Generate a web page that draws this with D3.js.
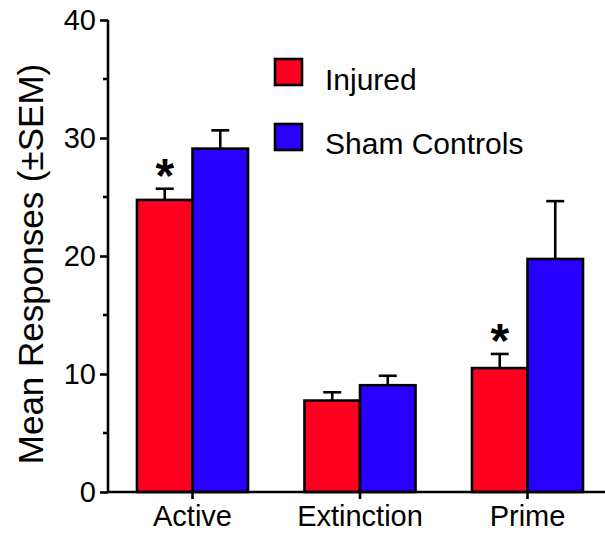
<!DOCTYPE html>
<html>
<head>
<meta charset="utf-8">
<script src="https://cdn.jsdelivr.net/npm/d3@7"></script>
<style>
  html, body { margin: 0; padding: 0; background: #fff; }
  svg { display: block; font-family: "Liberation Sans", Arial, Helvetica, sans-serif; }
</style>
</head>
<body>
<svg id="chart" width="605" height="533"></svg>
<script>
// ---- data ----
const categories = ["Active", "Extinction", "Prime"];
const seriesNames = ["Injured", "Sham Controls"];
const injuredMeans = [24.75, 7.75, 10.5];
const injuredSEM = [0.95, 0.7, 1.2];
const shamMeans = [29.1, 9.05, 19.75];
const shamSEM = [1.55, 0.8, 4.9];
const injuredSignificant = [true, false, true];
const yTicks = [0, 10, 20, 30, 40];
const yMinorTicks = [5, 15, 25, 35];
const colors = ["#FF0020", "#2800FF"];

// ---- layout ----
const svg = d3.select("#chart");
const x0 = 108, y0 = 492, yTop = 20;

const y = d3.scaleLinear().domain([0, 40]).range([y0, yTop]);
const x = d3.scaleBand().domain(categories).range([x0, 612])
  .paddingInner(0.337).paddingOuter(0.173);
const xs = d3.scaleBand().domain(seriesNames).range([0, x.bandwidth()]).padding(0);

const rows = [];
categories.forEach((c, i) => {
  rows.push({cat: c, series: seriesNames[0], mean: injuredMeans[i], sem: injuredSEM[i], sig: injuredSignificant[i], color: colors[0]});
  rows.push({cat: c, series: seriesNames[1], mean: shamMeans[i], sem: shamSEM[i], sig: false, color: colors[1]});
});

// error bars (upward only), drawn before bars
const capW = 18;
const eg = svg.append("g");
rows.forEach(d => {
  const cx = x(d.cat) + xs(d.series) + xs.bandwidth() / 2;
  eg.append("line").attr("x1", cx).attr("x2", cx)
    .attr("y1", y(d.mean)).attr("y2", y(d.mean + d.sem))
    .attr("stroke", "#000").attr("stroke-width", 2.6);
  eg.append("line").attr("x1", cx - capW / 2).attr("x2", cx + capW / 2)
    .attr("y1", y(d.mean + d.sem)).attr("y2", y(d.mean + d.sem))
    .attr("stroke", "#000").attr("stroke-width", 2.6);
  if (d.sig) {
    svg.append("text").attr("x", cx).attr("y", y(d.mean + d.sem) + 3)
      .attr("text-anchor", "middle").attr("font-size", 48).attr("font-weight", "bold")
      .text("*");
  }
});

// bars
svg.append("g").selectAll("rect").data(rows).join("rect")
  .attr("x", d => x(d.cat) + xs(d.series))
  .attr("y", d => y(d.mean))
  .attr("width", xs.bandwidth())
  .attr("height", d => y0 - y(d.mean))
  .attr("fill", d => d.color)
  .attr("stroke", "#000").attr("stroke-width", 2.6);

// y axis
const ya = svg.append("g").attr("transform", `translate(${x0},0)`)
  .call(d3.axisLeft(y).tickValues(yTicks).tickSize(8).tickPadding(4).tickFormat(d3.format("d")));
ya.select(".domain").attr("stroke-width", 2.6).attr("d", `M0,${yTop}V${y0}`);
ya.selectAll(".tick line").attr("stroke-width", 2.6);
ya.selectAll(".tick text").attr("font-size", 29).attr("font-family", "Liberation Sans, Arial, sans-serif").attr("fill", "#000");
svg.append("g").selectAll("line").data(yMinorTicks).join("line")
  .attr("x1", x0 - 5).attr("x2", x0).attr("y1", d => y(d)).attr("y2", d => y(d))
  .attr("stroke", "#000").attr("stroke-width", 2.6);

// x axis
const xa = svg.append("g").attr("transform", `translate(0,${y0})`)
  .call(d3.axisBottom(x).tickSize(7).tickPadding(6));
xa.select(".domain").attr("stroke-width", 2.6).attr("d", `M${x0},0H605`);
xa.selectAll(".tick line").attr("stroke-width", 2.6);
xa.selectAll(".tick text").attr("font-size", 29).attr("font-family", "Liberation Sans, Arial, sans-serif").attr("fill", "#000");

// y title
svg.append("text")
  .attr("transform", "translate(43,264) rotate(-90)")
  .attr("text-anchor", "middle").attr("font-size", 35)
  .text("Mean Responses (±SEM)");

// legend
const legY = [72, 137];
seriesNames.forEach((s, i) => {
  svg.append("rect").attr("x", 275).attr("y", legY[i] - 13).attr("width", 27).attr("height", 26)
    .attr("fill", colors[i]).attr("stroke", "#000").attr("stroke-width", 2.6);
  svg.append("text").attr("x", 325).attr("y", legY[i] + 17 + (i === 0 ? 1 : 0))
    .attr("font-size", 30).text(s);
});
</script>
</body>
</html>
